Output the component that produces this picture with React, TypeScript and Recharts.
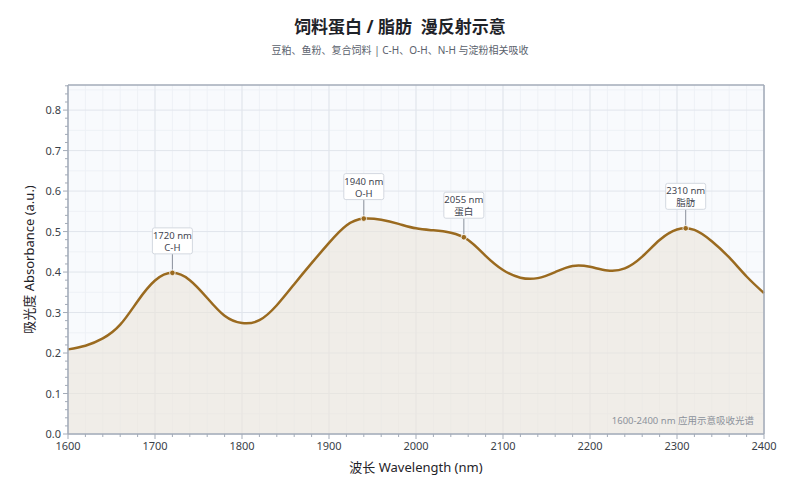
import React from 'react';
import {
    ComposedChart,
    Area,
    Scatter,
    XAxis,
    YAxis,
    CartesianGrid,
    ReferenceLine,
} from 'recharts';

// 波长 (nm) 与吸光度
const wavelengths = [
    1600, 1620, 1640, 1660, 1680, 1700, 1720, 1740, 1760, 1780,
    1800, 1820, 1840, 1860, 1880, 1900, 1920, 1940, 1960, 1980,
    2000, 2020, 2040, 2060, 2080, 2100, 2120, 2140, 2160, 2180,
    2200, 2220, 2240, 2260, 2280, 2300, 2320, 2340, 2360, 2380, 2400,
];
const absorbance = [
    0.209, 0.218, 0.236, 0.270, 0.328, 0.379, 0.398, 0.380, 0.336, 0.292,
    0.274, 0.281, 0.318, 0.370, 0.422, 0.472, 0.515, 0.532, 0.529, 0.519,
    0.508, 0.503, 0.497, 0.479, 0.440, 0.405, 0.386, 0.385, 0.400, 0.415,
    0.413, 0.404, 0.409, 0.438, 0.479, 0.505, 0.504, 0.476, 0.436, 0.389, 0.348,
];

// 标注峰
const peakWavelengths = [1720, 1940, 2055, 2310];
const peakAbsorbance = [0.398, 0.532, 0.486, 0.508];
const peakGroups = ['C-H', 'O-H', '蛋白', '脂肪'];

// 刻度
const xMajorTicks = [1600, 1700, 1800, 1900, 2000, 2100, 2200, 2300, 2400];
const yMajorTicks = [0, 0.1, 0.2, 0.3, 0.4, 0.5, 0.6, 0.7, 0.8];
const yMinorGrid = [0.05, 0.15, 0.25, 0.35, 0.45, 0.55, 0.65, 0.75, 0.85];
const Y_MAX = 0.862;

const xAllTicks = Array.from({ length: 41 }, (_, i) => 1600 + i * 20);
const yAllTicks = Array.from({ length: 44 }, (_, i) => Math.round(i * 2) / 100);

const spectrum = wavelengths.map((wl, i) => ({ wl, abs: absorbance[i] }));
const peaks = peakWavelengths.map((wl, i) => ({ wl, abs: peakAbsorbance[i], tag: peakGroups[i] }));

const FONT = "'Noto Sans', 'Noto Sans CJK SC', sans-serif";
const LINE = '#9a6a1f';
const AXIS = '#a3abb8';
const TEXT = '#3a3f48';

const XTick = ({ x, y, payload }: any) => {
    const v = payload.value;
    const major = xMajorTicks.includes(v);
    return (
        <g>
            <line x1={x} x2={x} y1={y} y2={y + (major ? 5 : 3)} stroke={AXIS} strokeWidth={1} />
            {major && (
                <text x={x} y={y + 16} textAnchor="middle" fontSize={11} fill={TEXT} fontFamily={FONT}>
                    {v}
                </text>
            )}
        </g>
    );
};

const YTick = ({ x, y, payload }: any) => {
    const v = payload.value;
    const major = Math.abs(v * 10 - Math.round(v * 10)) < 1e-6;
    return (
        <g>
            <line x1={x - (major ? 5 : 3)} x2={x} y1={y} y2={y} stroke={AXIS} strokeWidth={1} />
            {major && (
                <text x={x - 7} y={y + 4} textAnchor="end" fontSize={11} fill={TEXT} fontFamily={FONT}>
                    {v.toFixed(1)}
                </text>
            )}
        </g>
    );
};

const PeakMark = ({ cx, cy, payload }: any) => {
    const w = 40;
    const h = 26;
    const gap = 19;
    const top = cy - gap - h;
    return (
        <g>
            <line x1={cx} x2={cx} y1={cy - 3} y2={cy - gap} stroke="#8a919c" strokeWidth={1} />
            <rect
                x={cx - w / 2}
                y={top}
                width={w}
                height={h}
                rx={2}
                fill="#ffffff"
                stroke="#d3d8e0"
                strokeWidth={1}
            />
            <text x={cx} y={top + 11} textAnchor="middle" fontSize={9.5} fill="#3f4550" fontFamily={FONT}>
                {payload.wl} nm
            </text>
            <text x={cx} y={top + 23} textAnchor="middle" fontSize={9.5} fill="#3f4550" fontFamily={FONT}>
                {payload.tag}
            </text>
            <circle cx={cx} cy={cy} r={2.8} fill={LINE} stroke="#ffffff" strokeWidth={0.8} />
        </g>
    );
};

export default function App() {
    return (
        <div style={{ position: 'absolute', left: 0, top: 0, width: 800, height: 500, background: '#ffffff', fontFamily: FONT }}>
            <div
                style={{
                    position: 'absolute',
                    top: 14,
                    width: 800,
                    textAlign: 'center',
                    fontSize: 17,
                    fontWeight: 700,
                    lineHeight: '26px',
                    color: '#1f2329',
                }}
            >
                饲料蛋白 / 脂肪&nbsp;&nbsp;漫反射示意
            </div>
            <div
                style={{
                    position: 'absolute',
                    top: 42,
                    width: 800,
                    textAlign: 'center',
                    fontSize: 10,
                    lineHeight: '16px',
                    color: '#5a616c',
                }}
            >
                豆粕、鱼粉、复合饲料 | C-H、O-H、N-H 与淀粉相关吸收
            </div>
            <ComposedChart
                width={800}
                height={500}
                data={spectrum}
                margin={{ top: 85, right: 36, left: 18, bottom: 22 }}
            >
                <CartesianGrid
                    fill="#f8fafd"
                    stroke="#eef1f6"
                    verticalValues={xAllTicks}
                    horizontalValues={yMinorGrid}
                />
                <CartesianGrid
                    stroke="#e1e5ec"
                    verticalValues={xMajorTicks}
                    horizontalValues={yMajorTicks}
                />
                <XAxis
                    dataKey="wl"
                    type="number"
                    domain={[1600, 2400]}
                    ticks={xAllTicks}
                    interval={0}
                    tick={<XTick />}
                    tickLine={false}
                    tickSize={0}
                    tickMargin={0}
                    axisLine={{ stroke: AXIS, strokeWidth: 1.5 }}
                    height={44}
                    label={{
                        value: '波长 Wavelength (nm)',
                        position: 'insideBottom',
                        offset: 6,
                        style: { fontSize: 13, fill: '#1f2329', fontFamily: FONT },
                    }}
                />
                <YAxis
                    type="number"
                    domain={[0, Y_MAX]}
                    ticks={yAllTicks}
                    interval={0}
                    tick={<YTick />}
                    tickLine={false}
                    tickSize={0}
                    tickMargin={0}
                    axisLine={{ stroke: AXIS, strokeWidth: 1.5 }}
                    width={50}
                    label={{
                        value: '吸光度 Absorbance (a.u.)',
                        angle: -90,
                        position: 'insideLeft',
                        offset: 11,
                        style: { fontSize: 13, fill: '#1f2329', fontFamily: FONT, textAnchor: 'middle' },
                    }}
                />
                <ReferenceLine y={Y_MAX} stroke={AXIS} strokeWidth={1.5} />
                <ReferenceLine x={2400} stroke={AXIS} strokeWidth={1.5} />
                <ReferenceLine
                    y={0}
                    stroke="none"
                    label={{
                        value: '1600-2400 nm 应用示意吸收光谱',
                        position: 'insideBottomRight',
                        offset: 10,
                        style: { fontSize: 9.5, fill: '#8c929b', fontFamily: FONT },
                    }}
                />
                <Area
                    type="natural"
                    dataKey="abs"
                    stroke={LINE}
                    strokeWidth={2.5}
                    fill="#ebe4da"
                    fillOpacity={0.6}
                    dot={false}
                    activeDot={false}
                    isAnimationActive={false}
                />
                <Scatter data={peaks} dataKey="abs" shape={<PeakMark />} isAnimationActive={false} />
            </ComposedChart>
        </div>
    );
}
